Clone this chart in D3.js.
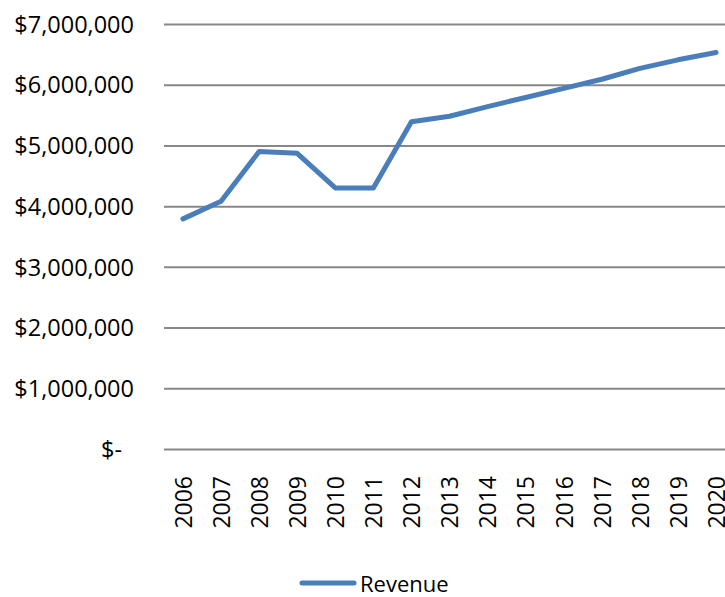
<!DOCTYPE html>
<html><head><meta charset="utf-8">
<script src="https://cdn.jsdelivr.net/npm/d3@7"></script>
<style>body{margin:0;background:#fff}svg{display:block}text{font-family:"Open Sans","Noto Sans",sans-serif;fill:#000}</style>
</head><body>
<script>
const years = ["2006","2007","2008","2009","2010","2011","2012","2013","2014","2015","2016","2017","2018","2019","2020"];
const revenue = [3790000,4080000,4900000,4870000,4300000,4300000,5390000,5480000,5640000,5790000,5940000,6090000,6270000,6410000,6530000];
const yTicks = [0,1000000,2000000,3000000,4000000,5000000,6000000,7000000];
const seriesName = "Revenue";

(function(){
const W=725,H=597;
const svg=d3.select("body").append("svg").attr("width",W).attr("height",H);
const pl=164, pr=164+38.07*15, pt=24, pb=449;
const x=d3.scalePoint().domain(years).range([pl+19,pr-19]);
const y=d3.scaleLinear().domain([0,7000000]).range([pb,pt]);
const fmt=v=> v===0 ? "$-" : "$"+d3.format(",")(v);

const yAxis=d3.axisLeft(y).tickValues(yTicks).tickSize(-(pr-pl)).tickFormat(fmt).tickPadding(30);
const gy=svg.append("g").attr("transform",`translate(${pl},0)`).call(yAxis);
gy.select(".domain").remove();
gy.selectAll(".tick line").attr("stroke","#888").attr("stroke-width",2);
gy.selectAll(".tick text").style("font-size","23.5px").attr("dy","0.35em")
  .attr("dx",d=>d===0?-12:0);

const xAxis=d3.axisBottom(x).tickSize(0).tickPadding(0);
const gx=svg.append("g").attr("transform",`translate(0,${pb})`).call(xAxis);
gx.select(".domain").remove();
gx.selectAll(".tick text").style("font-size","23px")
  .attr("text-anchor","end").attr("dy","0.36em").attr("y",0)
  .attr("transform","translate(0,27) rotate(-90)");

const line=d3.line().x((d,i)=>x(years[i])).y(d=>y(d));
svg.append("path").datum(revenue).attr("d",line).attr("fill","none")
  .attr("stroke","#4a7ebb").attr("stroke-width",5).attr("stroke-linejoin","round").attr("stroke-linecap","round");

const lg=svg.append("g");
lg.append("line").attr("x1",302).attr("x2",354).attr("y1",583).attr("y2",583)
  .attr("stroke","#4a7ebb").attr("stroke-width",5).attr("stroke-linecap","round");
lg.append("text").attr("x",360).attr("y",592).style("font-size","22px").text(seriesName);
})();
</script>
</body></html>
